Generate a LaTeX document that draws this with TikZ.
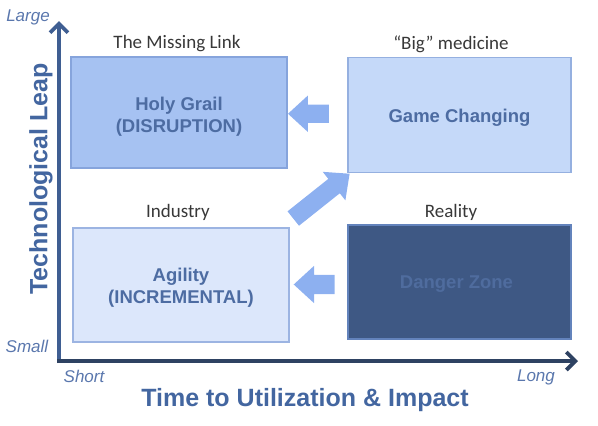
\documentclass[tikz,border=0pt]{standalone}
\usepackage{fontspec}
\setmainfont{Liberation Sans}
\newfontfamily\calfont{Carlito}
\usetikzlibrary{shapes.arrows,arrows.meta,calc}
\definecolor{gfill}{HTML}{A6C2F2}
\definecolor{gdraw}{HTML}{86A4DC}
\definecolor{cfill}{HTML}{C5D9F9}
\definecolor{cdraw}{HTML}{95B0E0}
\definecolor{afill}{HTML}{DCE7FB}
\definecolor{adraw}{HTML}{9CB4E2}
\definecolor{dfill}{HTML}{3E5884}
\definecolor{ddraw}{HTML}{6383BC}
\definecolor{dtext}{HTML}{4F6C9E}
\definecolor{btext}{HTML}{4D6CA2}
\definecolor{arrfill}{HTML}{8DB0F0}
\definecolor{ycol}{HTML}{3F5E92}
\definecolor{xcol}{HTML}{2E4262}
\definecolor{itcol}{HTML}{5A77AD}
\definecolor{titcol}{HTML}{4366A0}
\definecolor{lblcol}{HTML}{383838}
\tikzset{
  quad/.style={draw, line width=1.1pt, inner sep=0pt},
  quadtext/.style={inner sep=0pt, align=center, text=btext,
    font=\bfseries\fontsize{18.5}{22}\selectfont},
  toplabel/.style={text=lblcol, font=\calfont\fontsize{19}{22}\selectfont, inner sep=0pt},
  itlabel/.style={text=itcol, font=\itshape\fontsize{17}{20}\selectfont, inner sep=0pt},
  axtitle/.style={text=titcol, font=\bfseries\fontsize{25}{28}\selectfont, inner sep=0pt},
  blockarrow/.style={single arrow, fill=arrfill, draw=none, inner sep=0pt,
    minimum height=41pt, single arrow head extend=9pt,
    single arrow tip angle=85},
  axisline/.style={line width=3.8pt, -{Straight Barb[length=9pt,width=18pt]}}
}
\newcommand{\shaftrule}[1]{\rule{0pt}{#1}}
\begin{document}
\begin{tikzpicture}[x=1pt,y=-1pt]
\useasboundingbox (0,0) rectangle (598,426);
% boxes
\node[quad, fill=gfill, draw=gdraw, minimum width=216pt, minimum height=111pt] (grail) at (179,112.5) {};
\node[quad, fill=cfill, draw=cdraw, minimum width=223pt, minimum height=115pt] (game) at (459.5,115) {};
\node[quad, fill=afill, draw=adraw, minimum width=216pt, minimum height=114pt] (agility) at (181,285) {};
\node[quad, fill=dfill, draw=ddraw, minimum width=223pt, minimum height=114pt] (danger) at (459.5,282) {};
\node[quadtext] (grailtxt) at ($(grail.center)+(0,4.5)$) {Holy Grail\\(DISRUPTION)};
\node[quadtext] (gametxt) at ($(game.center)+(0,2.5)$) {Game Changing};
\node[quadtext] (agilitytxt) at ($(agility.center)+(0,2.5)$) {Agility\\(INCREMENTAL)};
\node[quadtext, text=dtext] (dangertxt) at ($(danger.center)+(-3,2)$) {Danger Zone};
% top labels
\node[toplabel] (lmiss) at (177,44) {The Missing Link};
\node[toplabel] (lbig) at (451,44) {“Big” medicine};
\node[toplabel] (lind) at (178,212) {Industry};
\node[toplabel] (lreal) at (451,212) {Reality};
% block arrows
\node[blockarrow, shape border rotate=180] (a1) at ($(game.west)!0.5!(grail.east)+(-4,0)$) {\shaftrule{18pt}};
\node[blockarrow, shape border rotate=180] (a2) at ($(danger.west)!0.5!(agility.east)+(1,1)$) {\shaftrule{19pt}};
\node[blockarrow, rotate=38.5, minimum height=72pt, single arrow head extend=9pt] (a3) at ($(agility.north east)!0.5!(game.south west)+(-1,-1)$) {\shaftrule{18pt}};
% axes
\coordinate (origin) at (59,361);
\coordinate (ybot) at (59,363);
\coordinate (ytop) at (59,21);
\coordinate (xstart) at (57,361);
\coordinate (xend) at (578,361);
\draw[axisline, draw=ycol] (ybot) -- (ytop);
\draw[axisline, draw=xcol] (xstart) -- (xend);
% axis labels
\node[itlabel] (large) at (28,17) {Large};
\node[itlabel] (small) at (27,346) {Small};
\node[itlabel] (short) at (84,376) {Short};
\node[itlabel] (long) at (536,377) {Long};
\node[axtitle, rotate=90] (ytitle) at (41,179) {Technological Leap};
\node[axtitle] (xtitle) at (305,400) {Time to Utilization \& Impact};
\end{tikzpicture}
\end{document}
